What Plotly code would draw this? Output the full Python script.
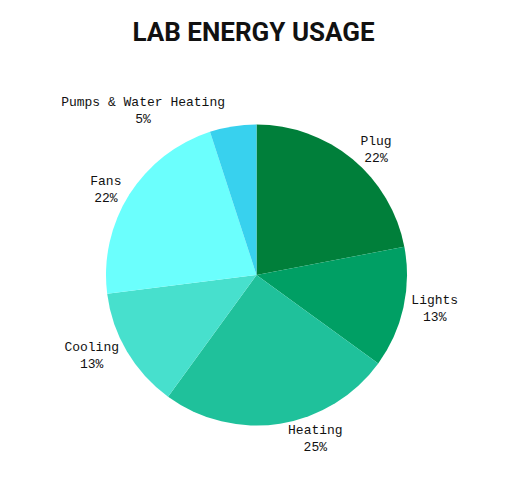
import plotly.graph_objects as go

# energy usage by end use (percent of total)
categories = ["Plug", "Lights", "Heating", "Cooling", "Fans", "Pumps & Water Heating"]
usage = [22, 13, 25, 13, 22, 5]
slice_colors = ["#007f3a", "#009f64", "#1fc19b", "#47e0cd", "#6bfffd", "#38d1ee"]

fig = go.Figure(go.Pie(
    labels=categories,
    values=usage,
    sort=False,
    direction="clockwise",
    rotation=0,
    marker=dict(colors=slice_colors, line=dict(width=0)),
    textposition="outside",
    texttemplate="%{label}<br>%{value}%",
    textfont=dict(family="Liberation Mono, DejaVu Sans Mono, monospace", size=13, color="#111111"),
    hoverinfo="label+percent",
    showlegend=False,
))

fig.update_layout(
    width=517,
    height=484,
    margin=dict(l=98, r=118, t=116, b=66),
    paper_bgcolor="white",
    title=dict(
        text="<b>LAB ENERGY USAGE</b>",
        x=0.475,
        xanchor="center",
        y=0.95,
        yanchor="middle",
        font=dict(family="Roboto, sans-serif", size=26, color="#111111"),
    ),
)

fig.write_html("out.html")
